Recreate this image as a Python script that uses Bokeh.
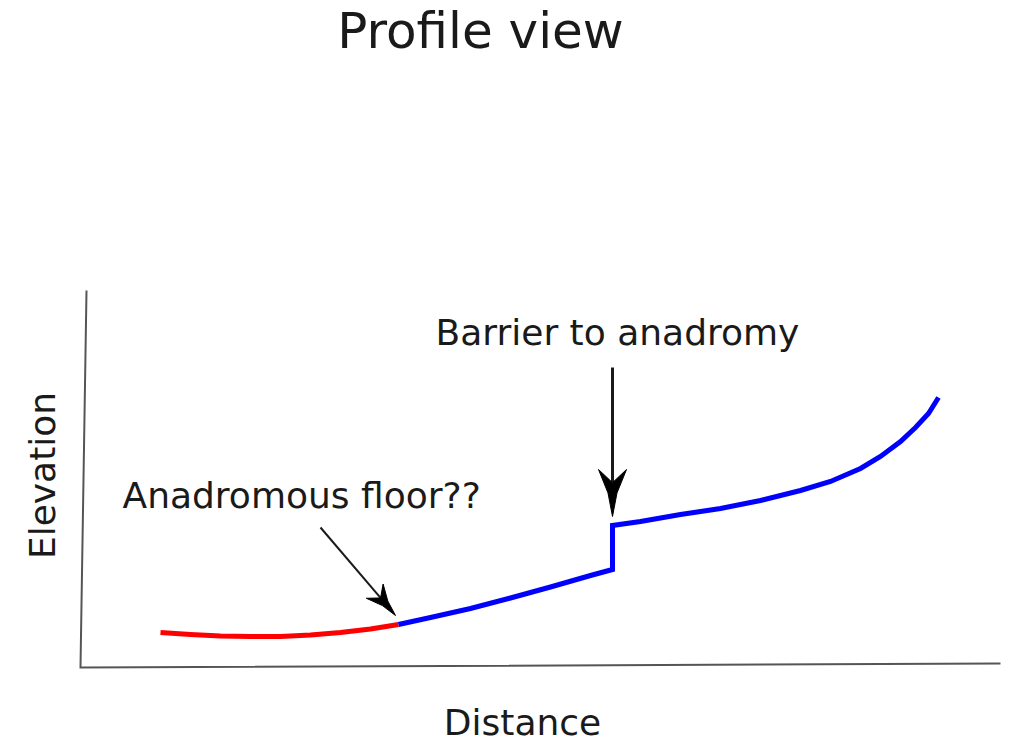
import numpy as np
from bokeh.plotting import figure
from bokeh.models import Range1d, Label
from bokeh.embed import file_html
from bokeh.resources import INLINE

# ---- data (arbitrary units: distance, elevation) ----
floor_dist = [78, 108, 138, 168, 198, 228, 258, 288, 316]
floor_elev = [34, 32, 30.5, 30, 30, 31.5, 34, 37.5, 42]

upper_dist = [316, 348, 388, 428, 468, 508, 530, 530, 558, 598, 638, 678, 718, 748, 778, 798, 818, 833, 846, 856]
upper_elev = [42, 49, 58, 68.5, 79.5, 91, 97, 141, 145, 152, 158, 166, 176, 185, 198, 210, 225, 239, 253, 269]

axis_dist = [4, -2, 918]
axis_elev = [376, -1, 3]

# annotation arrows: start -> tip
arrow_floor = dict(x0=238, y0=139, x1=313, y1=51)
arrow_barrier = dict(x0=530, y0=299, x1=530, y1=150)

title_text = "Profile view"
xlabel = "Distance"
ylabel = "Elevation"
label_barrier = "Barrier to anadromy"
label_floor = "Anadromous floor??"

FONT = "DejaVu Sans"

p = figure(width=1010, height=743, output_backend="svg", toolbar_location=None,
           x_range=Range1d(-82, 928), y_range=Range1d(-77, 666),
           x_axis_type=None, y_axis_type=None, min_border=0)
p.grid.visible = False
p.outline_line_color = None
p.background_fill_color = "white"
p.border_fill_color = "white"

# axes lines
p.line(axis_dist, axis_elev, line_color="#555555", line_width=2, line_join="miter")

# profile lines
p.line(floor_dist, floor_elev, line_color="#ff0000", line_width=5, line_cap="butt", line_join="round")
p.line(upper_dist, upper_elev, line_color="#0000ff", line_width=5, line_join="miter", line_cap="butt")


def arrow(a, L, W, lw):
    x0, y0, x1, y1 = a["x0"], a["y0"], a["x1"], a["y1"]
    dx, dy = x1 - x0, y1 - y0
    n = np.hypot(dx, dy)
    ux, uy = dx / n, dy / n
    px, py = -uy, ux
    bx, by = x1 - L * ux, y1 - L * uy
    nx, ny = x1 - 0.72 * L * ux, y1 - 0.72 * L * uy
    p.line([x0, nx], [y0, ny], line_color="#1a1a1a", line_width=lw)
    mlx = x1 - 0.5 * L * ux + 0.16 * W * px
    mly = y1 - 0.5 * L * uy + 0.16 * W * py
    mrx = x1 - 0.5 * L * ux - 0.16 * W * px
    mry = y1 - 0.5 * L * uy - 0.16 * W * py
    xs = [x1, mlx, bx + W / 2 * px, nx, bx - W / 2 * px, mrx]
    ys = [y1, mly, by + W / 2 * py, ny, by - W / 2 * py, mry]
    p.patch(xs, ys, fill_color="#000000", line_color="#000000", line_width=1)


arrow(arrow_floor, 32, 22, 2)
arrow(arrow_barrier, 47, 28, 3)

tc = "#1a1a1a"
p.add_layout(Label(x=398, y=636, text=title_text, text_font=FONT, text_font_size="50px",
                   text_align="center", text_baseline="alphabetic", text_color=tc))
p.add_layout(Label(x=353, y=334, text=label_barrier, text_font=FONT, text_font_size="36px",
                   text_align="left", text_baseline="alphabetic", text_color=tc))
p.add_layout(Label(x=40, y=171, text=label_floor, text_font=FONT, text_font_size="36px",
                   text_align="left", text_baseline="alphabetic", text_color=tc))
p.add_layout(Label(x=440, y=-56, text=xlabel, text_font=FONT, text_font_size="36px",
                   text_align="center", text_baseline="alphabetic", text_color=tc))
p.add_layout(Label(x=-40, y=191, text=ylabel, text_font=FONT, text_font_size="36px",
                   text_align="center", text_baseline="alphabetic", angle=np.pi / 2,
                   text_color=tc))

open("out.html", "w").write(file_html(p, INLINE))
